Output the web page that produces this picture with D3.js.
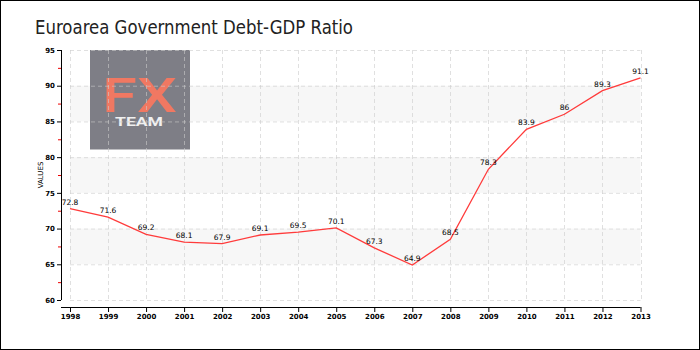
<!DOCTYPE html>
<html><head><meta charset="utf-8">
<script src="https://cdn.jsdelivr.net/npm/d3@7"></script>
<style>html,body{margin:0;padding:0;background:#fff}svg{display:block}</style>
</head><body><div id="chart"></div>
<script>
const years = ["1998","1999","2000","2001","2002","2003","2004","2005","2006","2007","2008","2009","2010","2011","2012","2013"];
const values = [72.8,71.6,69.2,68.1,67.9,69.1,69.5,70.1,67.3,64.9,68.5,78.3,83.9,86,89.3,91.1];
const yTicks = [60,65,70,75,80,85,90,95];
const minorTicks = [62.5,67.5,72.5,77.5,82.5,87.5,92.5];
const bands = [[65,70],[75,80],[85,90]];
const title = "Euroarea Government Debt-GDP Ratio";

const W = 700, H = 350;
const svg = d3.select("#chart").append("svg").attr("width", W).attr("height", H);
svg.append("rect").attr("x",0.5).attr("y",0.5).attr("width",W-1).attr("height",H-1)
  .attr("fill","#fff").attr("stroke","#000");

const x = d3.scalePoint().domain(years).range([70, 640.5]);
const y = d3.scaleLinear().domain([60,95]).range([300, 50]);

svg.append("text").attr("x",35).attr("y",34).text(title)
  .attr("textLength",318).attr("lengthAdjust","spacingAndGlyphs")
  .attr("font-family","DejaVu Sans Condensed").attr("font-size",19.5).attr("fill","#222");

// bands
svg.selectAll("rect.band").data(bands).enter().append("rect")
  .attr("x",x(years[0])).attr("width",x(years[years.length-1])-x(years[0]))
  .attr("y",d=>y(d[1])).attr("height",d=>y(d[0])-y(d[1])).attr("fill","#f7f7f7");

// logo
const lg = svg.append("g");
lg.append("rect").attr("x",90).attr("y",50).attr("width",100).attr("height",99.5).attr("fill","#7e7e86");
lg.append("text").attr("x",102).attr("y",111.5).text("FX")
  .attr("textLength",75).attr("lengthAdjust","spacingAndGlyphs")
  .attr("font-family","Roboto").attr("font-weight",500).attr("font-size",48).attr("fill","#f07862");
lg.append("text").attr("x",115).attr("y",126).text("TEAM")
  .attr("textLength",48).attr("lengthAdjust","spacingAndGlyphs")
  .attr("font-family","Roboto").attr("font-weight",700).attr("font-size",12).attr("fill","#f0f0f0");

// grid
svg.selectAll("line.hg").data(yTicks).enter().append("line")
  .attr("x1",x(years[0])).attr("x2",x(years[years.length-1]))
  .attr("y1",d=>y(d)+0.5).attr("y2",d=>y(d)+0.5)
  .attr("stroke","#ccc").attr("stroke-opacity",0.6).attr("stroke-dasharray","4,3");
svg.selectAll("line.vg").data(years).enter().append("line")
  .attr("x1",d=>Math.round(x(d))+0.5).attr("x2",d=>Math.round(x(d))+0.5)
  .attr("y1",y(95)).attr("y2",y(60))
  .attr("stroke","#ccc").attr("stroke-opacity",0.6).attr("stroke-dasharray","4,3");

// y axis
const yAxis = d3.axisLeft(y).tickValues(yTicks).tickSize(4).tickPadding(2);
const ya = svg.append("g").attr("transform","translate(61,0)").call(yAxis);
ya.select(".domain").attr("stroke","#000").attr("d",`M0.5,${y(95)}V${y(60)}`);
ya.selectAll("text").attr("font-family","DejaVu Sans").attr("font-weight","bold").attr("font-size",7).attr("fill","#000");
ya.selectAll("line").attr("stroke","#000");
svg.selectAll("line.minor").data(minorTicks).enter().append("line")
  .attr("x1",58).attr("x2",61).attr("y1",d=>y(d)+0.5).attr("y2",d=>y(d)+0.5).attr("stroke","#e00");
svg.append("text").attr("transform",`translate(43,175) rotate(-90)`).attr("text-anchor","middle")
  .text("VALUES").attr("font-family","DejaVu Sans").attr("font-size",7).attr("fill","#000");

// x axis
const xAxis = d3.axisBottom(x).tickSize(5).tickPadding(2);
const xa = svg.append("g").attr("transform","translate(0,307)").call(xAxis);
xa.select(".domain").attr("stroke","#000").attr("d",`M61,0.5H${x(years[years.length-1])}`);
xa.selectAll("line").attr("stroke","#000");
xa.selectAll("text").attr("font-family","DejaVu Sans").attr("font-weight","bold").attr("font-size",7).attr("fill","#000");

// line
const line = d3.line().x((d,i)=>x(years[i])).y(d=>y(d));
svg.append("path").datum(values).attr("d",line).attr("fill","none")
  .attr("stroke","#ff3b3b").attr("stroke-width",1.3);

svg.selectAll("text.lbl").data(values).enter().append("text")
  .attr("x",(d,i)=>x(years[i])).attr("y",d=>y(d)-4).attr("text-anchor","middle")
  .text(d=>String(d)).attr("font-family","DejaVu Sans").attr("font-size",7.5).attr("fill","#000");
</script></body></html>
